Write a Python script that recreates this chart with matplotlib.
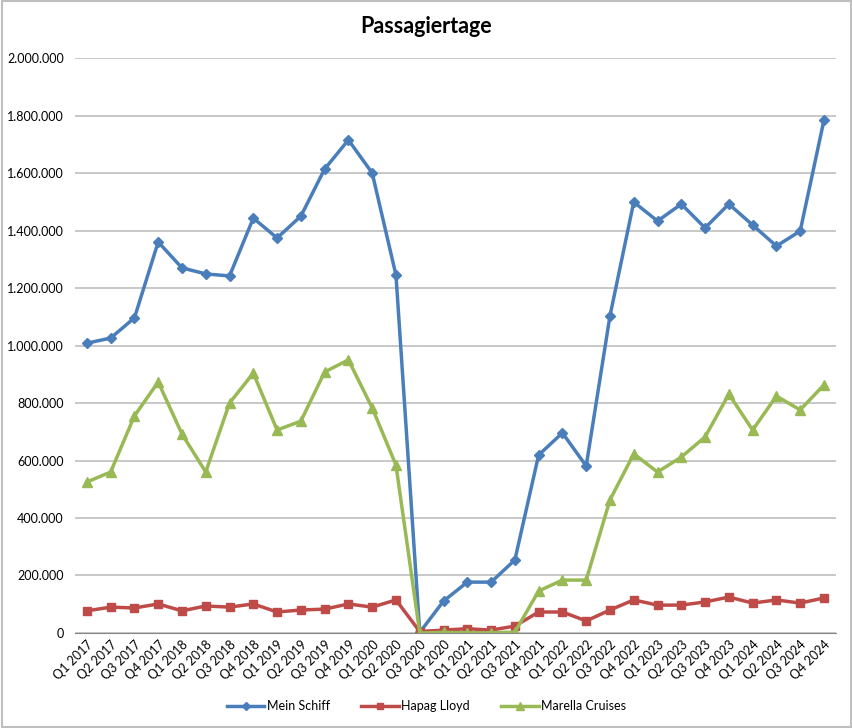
import numpy as np
import matplotlib
matplotlib.use("Agg")
import matplotlib.pyplot as plt
from matplotlib.ticker import FuncFormatter, MultipleLocator
from matplotlib.patches import Rectangle

# Daten
quarters = [f"Q{q} {y}" for y in range(2017, 2025) for q in range(1, 5)]

mein_schiff = [1008000, 1026000, 1096000, 1360000, 1270000, 1249000, 1242000, 1443000,
               1374000, 1450000, 1614000, 1715000, 1600000, 1245000, 2000, 111000,
               177000, 177000, 254000, 619000, 696000, 581000, 1103000, 1499000,
               1433000, 1492000, 1409000, 1492000, 1419000, 1346000, 1398000, 1784000]

hapag_lloyd = [77000, 90000, 87000, 101000, 77000, 94000, 90000, 101000,
               73000, 80000, 83000, 101000, 90000, 115000, 5000, 10000,
               15000, 10000, 24000, 73000, 73000, 42000, 80000, 115000,
               97000, 97000, 108000, 125000, 104000, 115000, 104000, 122000]

marella = [525000, 560000, 755000, 873000, 692000, 560000, 800000, 904000,
           706000, 737000, 908000, 950000, 783000, 584000, 0, 2000,
           1000, 1000, 3000, 146000, 184000, 184000, 463000, 623000,
           560000, 612000, 682000, 831000, 706000, 824000, 776000, 863000]

plt.rcParams['font.family'] = ['Lato', 'DejaVu Sans']

fig = plt.figure(figsize=(8.53, 7.28), dpi=100)
ax = fig.add_axes([0.0879, 0.1305, 0.892, 0.7898])

x = np.arange(len(quarters))
ax.plot(x, mein_schiff, color='#4A7EBB', lw=2.5, marker='D', ms=5, label='Mein Schiff')
ax.plot(x, hapag_lloyd, color='#BE4B48', lw=2.5, marker='s', ms=6, label='Hapag Lloyd')
ax.plot(x, marella, color='#98B954', lw=2.5, marker='^', ms=7, label='Marella Cruises')

ax.set_xlim(-0.5, len(quarters) - 0.5)
ax.set_ylim(0, 2000000)
ax.yaxis.set_major_locator(MultipleLocator(200000))
ax.yaxis.set_major_formatter(FuncFormatter(lambda v, p: f"{int(v):,}".replace(",", ".")))
ax.grid(axis='y', color='#BFBFBF', lw=1.2)
ax.set_axisbelow(True)

ax.set_xticks(x)
ax.set_xticklabels(quarters, rotation=45, ha='right', rotation_mode='anchor', fontsize=9)
ax.tick_params(axis='x', length=0, pad=4)
ax.tick_params(axis='y', length=0, labelsize=9, pad=8)

for s in ['top', 'right', 'left']:
    ax.spines[s].set_visible(False)
ax.spines['bottom'].set_color('#878787')

fig.text(0.5, 0.963, 'Passagiertage', ha='center', va='center', fontsize=15.5, fontweight='bold')

fig.legend(loc='center', bbox_to_anchor=(0.5, 0.030), ncol=3, frameon=False, fontsize=9,
           handlelength=3, columnspacing=2.5, handletextpad=0.2, markerscale=0.8)

fig.patches.append(Rectangle((0.002, 0.002), 0.996, 0.996, transform=fig.transFigure,
                             fill=False, edgecolor='#BFBFBF', lw=1.5))

fig.savefig('out.png', dpi=100)
